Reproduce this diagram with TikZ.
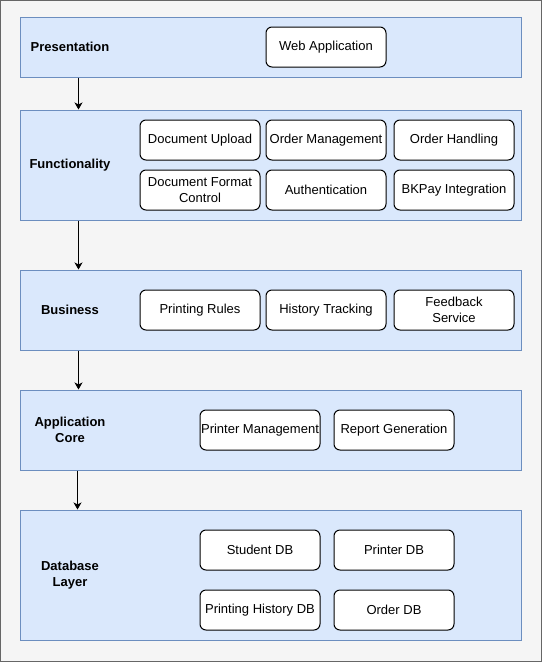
\documentclass[tikz,border=0pt]{standalone}
\usepackage{fontspec}
\setmainfont{Liberation Sans}
\usetikzlibrary{arrows.meta}
\definecolor{layerfill}{HTML}{DAE8FC}
\definecolor{layerline}{HTML}{6C8EBF}
\definecolor{pagefill}{HTML}{F5F5F5}
\definecolor{pageline}{HTML}{666666}
\begin{document}
\begin{tikzpicture}[x=1pt, y=-1pt,
                    font=\fontsize{13pt}{15.5pt}\selectfont,
                    arrow/.style = {line width=1pt,-{Stealth[length=7pt,width=8pt,inset=2pt]}},
                    layer/.style = {draw=layerline, fill=layerfill, line width=1pt, inner sep=0pt, minimum width=501pt},
                    box/.style = {draw, fill=white, rounded corners=6pt, line width=1pt, inner sep=1pt, minimum width=120pt, minimum height=40pt, align=center},
                    title/.style = {font=\fontsize{13pt}{16pt}\selectfont\bfseries, align=center}]
                    \useasboundingbox (0,0) rectangle (542,662);
                    \draw[pageline, fill=pagefill, line width=1pt] (0.5,0.5) rectangle (541.5,661.5);

                    \node [layer, minimum height=60pt] (pres) at (270.5,47) {};
                    \node [layer, minimum height=110pt] (func) at (270.5,165) {};
                    \node [layer, minimum height=80pt] (bus) at (270.5,310) {};
                    \node [layer, minimum height=80pt] (core) at (270.5,430) {};
                    \node [layer, minimum height=130pt] (db) at (270.5,575) {};

                    \node [title] (presT) at (70,47) {Presentation};
                    \node [title] (funcT) at (70,165) {Functionality};
                    \node [title] (busT) at (70,310) {Business};
                    \node [title] (coreT) at (70,430) {Application\\Core};
                    \node [title] (dbT) at (70,575) {Database\\Layer};

                    \node [box] (web) at (326,47) {Web Application};

                    \node [box] (upload) at (200,140) {Document Upload};
                    \node [box] (ordermgmt) at (326,140) {Order Management};
                    \node [box] (orderhand) at (454,140) {Order Handling};
                    \node [box] (format) at (200,190) {Document Format\\Control};
                    \node [box] (auth) at (326,190) {Authentication};
                    \node [box] (bkpay) at (454,190) {BKPay Integration};

                    \node [box] (rules) at (200,310) {Printing Rules};
                    \node [box] (history) at (326,310) {History Tracking};
                    \node [box] (feedback) at (454,310) {Feedback\\Service};

                    \node [box] (printmgmt) at (260,430) {Printer Management};
                    \node [box] (report) at (394,430) {Report Generation};

                    \node [box] (studentdb) at (260,550) {Student DB};
                    \node [box] (printerdb) at (394,550) {Printer DB};
                    \node [box] (historydb) at (260,610) {Printing History DB};
                    \node [box] (orderdb) at (394,610) {Order DB};

                    \draw[arrow] ([xshift=59pt]pres.south west) -- ([xshift=59pt]func.north west);
                    \draw[arrow] ([xshift=59pt]func.south west) -- ([xshift=59pt]bus.north west);
                    \draw[arrow] ([xshift=59pt]bus.south west) -- ([xshift=59pt]core.north west);
                    \draw[arrow] ([xshift=58pt]core.south west) -- ([xshift=58pt]db.north west);
                \end{tikzpicture}
\end{document}
